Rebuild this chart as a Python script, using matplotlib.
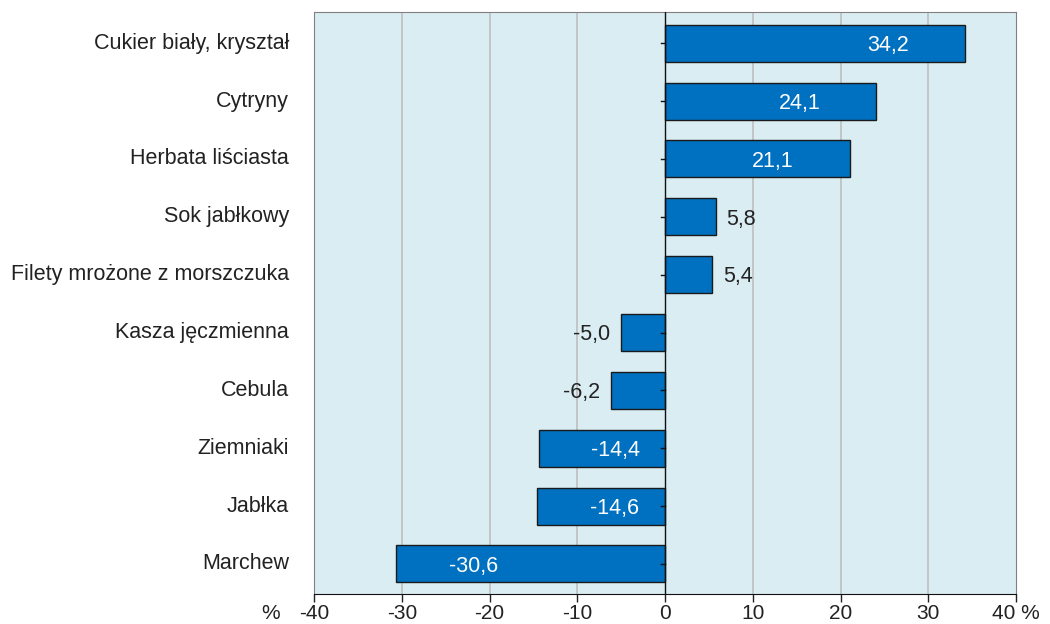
import matplotlib
matplotlib.use("Agg")
import matplotlib.pyplot as plt

categories = ["Cukier biały, kryształ", "Cytryny", "Herbata liściasta", "Sok jabłkowy",
              "Filety mrożone z morszczuka", "Kasza jęczmienna", "Cebula", "Ziemniaki",
              "Jabłka", "Marchew"]
values = [34.2, 24.1, 21.1, 5.8, 5.4, -5.0, -6.2, -14.4, -14.6, -30.6]
xticks = [-40, -30, -20, -10, 0, 10, 20, 30, 40]
xticklabels = ["-40", "-30", "-20", "-10", "0", "10", "20", "30", "40 %"]

plt.rcParams['font.family'] = ['Liberation Sans', 'DejaVu Sans']
FS = 15.5
TFS = 15

fig = plt.figure(figsize=(10.5, 6.24), dpi=100)
ax = fig.add_axes([314/1050, 1 - 594/624, (1016-314)/1050, (594-12)/624])
ax.set_facecolor("#DAEDF3")

y = list(range(len(categories)))
ax.barh(y, values, height=0.64, color="#0070C0", edgecolor="#1a1a1a", linewidth=1.0, zorder=3)

ax.set_xlim(-40, 40)
ax.set_ylim(len(categories) - 0.48, -0.54)
ax.set_xticks(xticks)
ax.set_xticklabels(xticklabels, fontsize=TFS)
for t in ax.get_xticklabels():
    t.set_color("#222222")
ax.tick_params(axis='x', length=6, width=1, color="#222222", pad=1.5)

for g in [-30, -20, -10, 10, 20, 30]:
    ax.axvline(g, color="#BFBFBF", linewidth=1.2, zorder=1)

ax.axvline(0, color="#111111", linewidth=1.0, zorder=4)

ax.set_yticks([])
for i, c in enumerate(categories):
    ax.annotate(c, xy=(-40, i), xytext=(-18, 0), textcoords='offset points',
                ha='right', va='center', fontsize=FS, color="#222222", annotation_clip=False)
    ax.plot([-0.5, 0], [i, i], color="#111111", linewidth=1.0, zorder=5)

for s in ['top', 'right', 'left']:
    ax.spines[s].set_color("#808080")
ax.spines['bottom'].set_color("#111111")

ax.annotate("%", xy=(0, 0), xycoords='axes fraction', xytext=(-31, -7.5),
            textcoords='offset points', ha='center', va='top', fontsize=TFS, color="#222222")

for i, v in enumerate(values):
    lab = f"{v:.1f}".replace(".", ",")
    if abs(v) >= 10:
        pos = v - 8.8 if v > 0 else v + 8.8
        ax.text(pos, i + 0.04, lab, ha='center', va='center', fontsize=FS, color="white", zorder=6)
    else:
        if v > 0:
            ax.text(v + 1.2, i + 0.04, lab, ha='left', va='center', fontsize=FS, color="#222222", zorder=6)
        else:
            ax.text(v - 1.2, i + 0.04, lab, ha='right', va='center', fontsize=FS, color="#222222", zorder=6)

fig.savefig("out.png", dpi=100)
